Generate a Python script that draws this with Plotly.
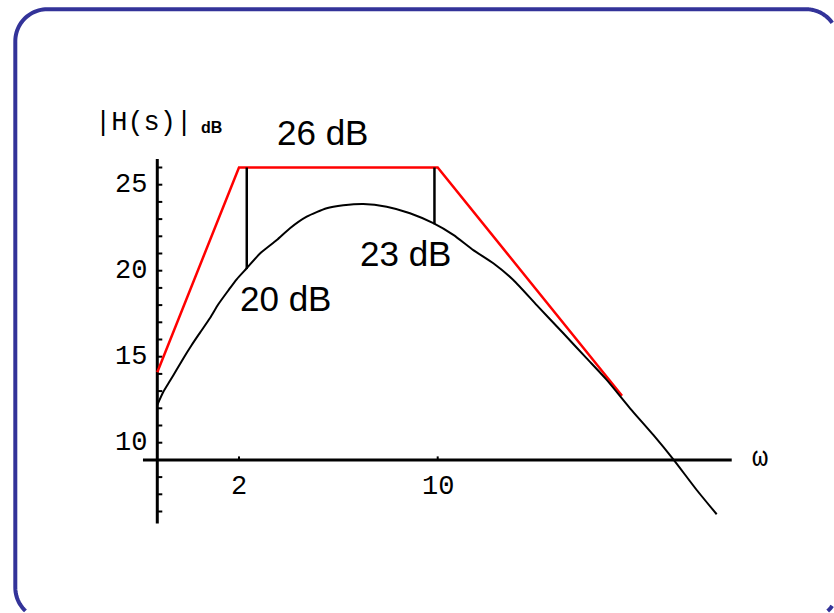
import numpy as np
import plotly.graph_objects as go

W, H = 834, 613

# |H(jw)| in dB sampled along the exact response
omega = [1.032, 1.083, 1.144, 1.208, 1.274, 1.364, 1.459, 1.582, 1.692, 1.834, 1.963,
         2.129, 2.371, 2.715, 3.023, 3.461, 4.070, 4.655, 5.474, 6.617, 7.990, 9.650,
         11.35, 13.34, 15.69, 18.45, 22.30, 27.66, 33.43, 39.31, 47.48, 57.33, 67.43,
         81.47, 95.8]
mag_db = [12.2, 12.95, 13.6, 14.25, 14.9, 15.68, 16.4, 17.25, 18.05, 18.85, 19.5,
          20.14, 21.0, 21.78, 22.47, 23.14, 23.63, 23.8, 23.88, 23.72, 23.34, 22.76,
          22.08, 21.2, 20.43, 19.46, 18.0, 16.36, 14.9, 13.65, 12.0, 10.45, 9.03,
          7.25, 5.84]

# straight-line (asymptotic) approximation
asym_omega = [1.032, 2.0, 10.0, 44.5]
asym_db = [14.1, 26.0, 26.0, 12.73]
plateau_db = 26

# drop from the plateau to the exact curve near the two corners
marker_omega = [2.13, 9.74]
marker_db = [20.1, 22.7]

# axes
x_axis_db = 9
y_axis_omega = 1.032
x_axis_span = [0.919, 108.2]
y_axis_span = [5.3, 26.5]
xtick_vals = [2, 10]
ytick_labels = [10, 15, 20, 25]
ytick_minor = [v for v in range(6, 27) if v != x_axis_db]

# pixel <-> axis calibration of the drawing area
X_LOG_RANGE = [-0.53957, 2.39395]
Y_RANGE = [10 - (H - 442.7) / 17.2, 10 + 442.7 / 17.2]
px_per_dec = W / (X_LOG_RANGE[1] - X_LOG_RANGE[0])
px_per_db = H / (Y_RANGE[1] - Y_RANGE[0])

fig = go.Figure()

# coordinate axes
fig.add_trace(go.Scatter(x=x_axis_span, y=[x_axis_db, x_axis_db], mode="lines",
                         line=dict(color="black", width=3), hoverinfo="skip"))
fig.add_trace(go.Scatter(x=[y_axis_omega, y_axis_omega], y=y_axis_span, mode="lines",
                         line=dict(color="black", width=3), hoverinfo="skip"))

# y ticks (short marks pointing right)
tick_dx = 10 ** (5 / px_per_dec)
tx, ty = [], []
for v in ytick_minor:
    tx += [y_axis_omega, y_axis_omega * tick_dx, None]
    ty += [v, v, None]
fig.add_trace(go.Scatter(x=tx, y=ty, mode="lines", line=dict(color="black", width=2),
                         hoverinfo="skip"))

# x ticks (short marks pointing up)
tick_dy = 3.5 / px_per_db
tx, ty = [], []
for v in xtick_vals:
    tx += [v, v, None]
    ty += [x_axis_db, x_axis_db + tick_dy, None]
fig.add_trace(go.Scatter(x=tx, y=ty, mode="lines", line=dict(color="black", width=2),
                         hoverinfo="skip"))

# asymptotic approximation
fig.add_trace(go.Scatter(x=asym_omega, y=asym_db, mode="lines",
                         line=dict(color="#ff0000", width=2.5), hoverinfo="skip"))

# exact magnitude
fig.add_trace(go.Scatter(x=omega, y=mag_db, mode="lines",
                         line=dict(color="black", width=2, shape="spline", smoothing=0.6),
                         hoverinfo="skip"))

# vertical drops from the plateau
mx, my = [], []
for w, d in zip(marker_omega, marker_db):
    mx += [w, w, None]
    my += [plateau_db, d, None]
fig.add_trace(go.Scatter(x=mx, y=my, mode="lines", line=dict(color="black", width=2.5),
                         hoverinfo="skip"))

mono = dict(family="Liberation Mono", size=27, color="black")
sans = dict(family="Liberation Sans", size=35, color="black")


def px(xp, yp):
    return xp / W, 1 - yp / H


annotations = []
for v in ytick_labels:
    annotations.append(dict(x=149 / W, xref="paper", y=v, yref="y", text=str(v),
                            xanchor="right", yanchor="middle", showarrow=False, font=mono))
for v in xtick_vals:
    annotations.append(dict(x=np.log10(v), xref="x", y=1 - 487 / H, yref="paper",
                            text=str(v), xanchor="center", yanchor="middle",
                            showarrow=False, font=mono))

# axis titles
ax, ay = px(143, 123)
annotations.append(dict(x=ax, y=ay, xref="paper", yref="paper", text="|H(s)|",
                        xanchor="center", yanchor="middle", showarrow=False, font=mono))
ax, ay = px(212, 128)
annotations.append(dict(x=ax, y=ay, xref="paper", yref="paper", text="<b>dB</b>",
                        xanchor="center", yanchor="middle", showarrow=False,
                        font=dict(family="Liberation Sans", size=16, color="black")))
ax, ay = px(760, 459)
annotations.append(dict(x=ax, y=ay, xref="paper", yref="paper", text="ω",
                        xanchor="center", yanchor="middle", showarrow=False, font=mono))

# value labels
ax, ay = px(322, 133)
annotations.append(dict(x=ax, y=ay, xref="paper", yref="paper", text=f"{plateau_db} dB",
                        xanchor="center", yanchor="middle", showarrow=False, font=sans))
for (cx, cy), d in zip([(285, 298), (405, 253)], marker_db):
    ax, ay = px(cx, cy)
    annotations.append(dict(x=ax, y=ay, xref="paper", yref="paper", text=f"{d:.0f} dB",
                            xanchor="center", yanchor="middle", showarrow=False, font=sans))


# rounded slide frame; it runs past the right and bottom page edges, so the
# outline is traced only as far as the visible area (inside xmax / ymax)
def arc(cx, cy, r, a0, a1, n=24):
    t = np.linspace(np.radians(a0), np.radians(a1), n)
    return list(zip(cx + r * np.cos(t), cy + r * np.sin(t)))


def clip(points, xmax, ymax):
    return [(x, y) for x, y in points if x <= xmax and y <= ymax]


def frame_path(x0, y0, x1, y1, r, xmax, ymax):
    pts = []
    pts += arc(x1 - r, y0 + r, r, 0, -90, 60)           # top-right corner
    pts += arc(x0 + r, y0 + r, r, -90, -180)            # top-left corner
    pts += arc(x0 + r, y1 - r, r, 180, 90)              # bottom-left corner
    pts = clip(pts, xmax, ymax)
    br = clip(arc(x1 - r, y1 - r, r, 90, 0, 60), xmax, ymax)   # bottom-right corner

    def poly(p):
        return "M" + " L".join(f"{x / W:.5f},{1 - y / H:.5f}" for x, y in p)

    return poly(pts) + " " + poly(br)


fig.add_shape(type="path",
              path=frame_path(15.3, 9.2, 838, 619.5, 32, W - 1.5, H - 1.5),
              xref="paper", yref="paper", line=dict(color="#333399", width=4),
              fillcolor="rgba(0,0,0,0)", layer="below")

fig.update_layout(
    width=W, height=H, autosize=False,
    margin=dict(l=0, r=0, t=0, b=0, pad=0),
    paper_bgcolor="white", plot_bgcolor="white",
    showlegend=False,
    xaxis=dict(type="log", range=X_LOG_RANGE, visible=False, domain=[0, 1]),
    yaxis=dict(range=Y_RANGE, visible=False, domain=[0, 1]),
    annotations=annotations,
)

fig.write_html("out.html", config=dict(displayModeBar=False))
